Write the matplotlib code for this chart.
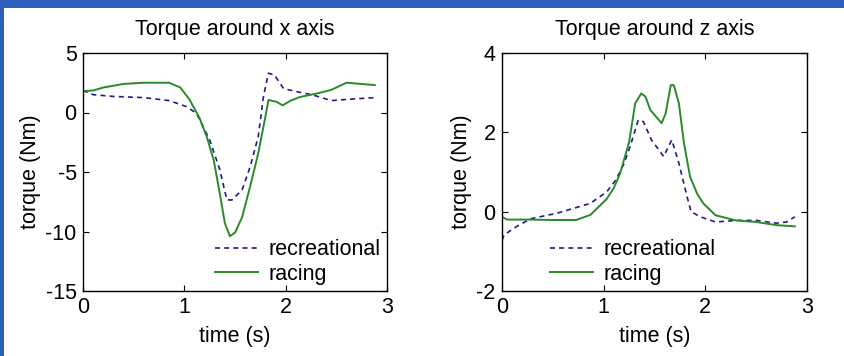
import matplotlib.pyplot as plt
from matplotlib.patches import Rectangle

plt.rcParams['font.family'] = ['Liberation Sans', 'DejaVu Sans']
plt.rcParams['axes.unicode_minus'] = False

# torque around x axis
tx_rec = [0, 0.1, 0.3, 0.6, 0.85, 1.02, 1.12, 1.25, 1.35, 1.42, 1.47, 1.57, 1.65, 1.73, 1.78,
          1.83, 1.89, 1.98, 2.11, 2.27, 2.45, 2.6, 2.88]
x_rec = [1.85, 1.5, 1.35, 1.25, 1.0, 0.5, -0.07, -2.3, -4.8, -7.35, -7.35, -6.5, -4.55, -2.0, 1.3,
         3.3, 3.15, 2.0, 1.75, 1.47, 1.0, 1.1, 1.25]
tx_rac = [0, 0.1, 0.2, 0.4, 0.6, 0.85, 0.96, 1.05, 1.15, 1.22, 1.29, 1.35, 1.40, 1.45, 1.50, 1.57,
          1.65, 1.73, 1.80, 1.83, 1.91, 1.97, 2.05, 2.14, 2.31, 2.45, 2.6, 2.75, 2.88]
x_rac = [1.8, 1.85, 2.1, 2.4, 2.5, 2.5, 2.1, 1.1, -0.46, -2.0, -4.0, -6.8, -9.3, -10.4, -10.1, -8.8,
         -6.2, -3.4, -0.35, 1.05, 0.9, 0.6, 1.0, 1.3, 1.6, 1.9, 2.5, 2.4, 2.3]

# torque around z axis
tz_rec = [0, 0.02, 0.07, 0.14, 0.28, 0.54, 0.87, 1.03, 1.12, 1.2, 1.26, 1.34, 1.39, 1.47, 1.59,
          1.67, 1.74, 1.82, 1.86, 1.95, 2.1, 2.3, 2.5, 2.7, 2.8, 2.88]
z_rec = [-0.72, -0.59, -0.5, -0.38, -0.18, -0.04, 0.21, 0.5, 0.8, 1.21, 1.64, 2.31, 2.27, 1.81,
         1.39, 1.81, 1.22, 0.38, 0.0, -0.13, -0.26, -0.22, -0.22, -0.29, -0.26, -0.13]
tz_rac = [0, 0.05, 0.3, 0.5, 0.73, 0.87, 1.03, 1.1, 1.16, 1.25, 1.31, 1.37, 1.41, 1.46, 1.57, 1.61,
          1.66, 1.69, 1.74, 1.79, 1.85, 1.92, 1.98, 2.1, 2.3, 2.5, 2.7, 2.88]
z_rac = [-0.13, -0.2, -0.2, -0.21, -0.21, -0.08, 0.32, 0.6, 0.95, 1.75, 2.73, 2.98, 2.9, 2.56,
         2.23, 2.48, 3.19, 3.19, 2.73, 1.72, 0.88, 0.45, 0.21, -0.09, -0.22, -0.26, -0.34, -0.37]

blue = '#1c1c8a'
green = '#2a8a2a'

W, H = 845, 356
fig = plt.figure(figsize=(W / 100, H / 100), dpi=100)
fig.patch.set_facecolor('#2c5fba')
fig.patches.append(Rectangle((4 / W, 0), 1, (H - 8) / H, transform=fig.transFigure,
                             facecolor='white', edgecolor='none', zorder=-5))

ax1 = fig.add_axes([83 / W, (H - 291) / H, 304 / W, 238 / H])
ax2 = fig.add_axes([502 / W, (H - 291) / H, 305 / W, 238 / H])

fs = 15.5
panels = [
    (ax1, tx_rec, x_rec, tx_rac, x_rac, 'Torque around x axis', (-15, 5), [-15, -10, -5, 0, 5]),
    (ax2, tz_rec, z_rec, tz_rac, z_rac, 'Torque around z axis', (-2, 4), [-2, 0, 2, 4]),
]

for ax, tr, yr, tc, yc, title, ylim, yticks in panels:
    ax.plot(tr, yr, '--', color=blue, lw=1.2, dashes=(3, 2.5), label='recreational')
    ax.plot(tc, yc, '-', color=green, lw=1.4, label='racing')
    ax.set_xlim(0, 3)
    ax.set_ylim(*ylim)
    ax.set_xticks([0, 1, 2, 3])
    ax.set_yticks(yticks)
    ax.tick_params(direction='in', top=True, right=True, length=4, labelsize=fs)
    ax.tick_params(axis='x', pad=4)
    ax.tick_params(axis='y', pad=4.5)
    ax.set_title(title, fontsize=fs, pad=13)
    ax.set_xlabel('time (s)', fontsize=fs, labelpad=6)
    ax.set_ylabel('torque (Nm)', fontsize=fs, labelpad=3)
    for s in ax.spines.values():
        s.set_linewidth(1.0)

ax1.legend(loc='lower right', frameon=False, fontsize=fs, handlelength=2.0,
           borderaxespad=0.1, borderpad=0.2, labelspacing=0.15, handletextpad=0.5)
ax2.legend(loc='lower left', bbox_to_anchor=(0.135, 0.0), frameon=False, fontsize=fs,
           handlelength=2.0, borderaxespad=0.1, borderpad=0.2, labelspacing=0.15,
           handletextpad=0.5)

fig.savefig('out.png', dpi=100, facecolor=fig.get_facecolor())
